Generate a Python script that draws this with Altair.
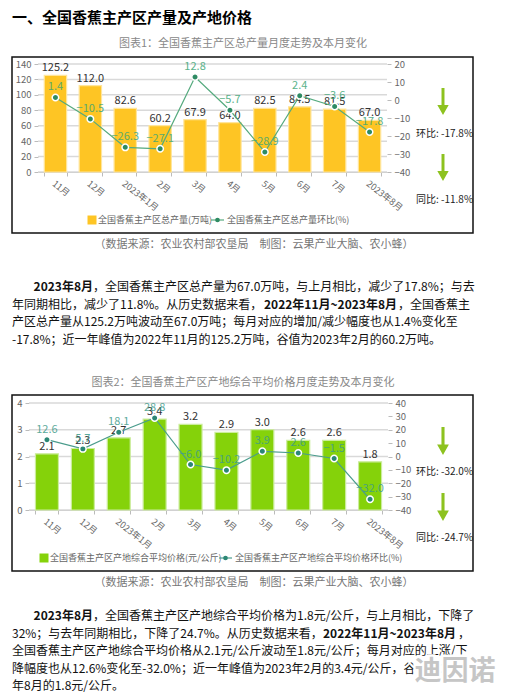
import altair as alt
import pandas as pd

# ---------------- data ----------------
months = ["11月", "12月", "2023年1月", "2月", "3月", "4月", "5月", "6月", "7月", "2023年8月"]
output_wt = [125.2, 112.0, 82.6, 60.2, 67.9, 64.0, 82.5, 84.5, 81.5, 67.0]
output_mom = [1.4, -10.5, -26.3, -27.1, 12.8, -5.7, -28.9, 2.4, -3.6, -17.8]
price = [2.1, 2.3, 2.7, 3.4, 3.2, 2.9, 3.0, 2.6, 2.6, 1.8]
price_mom = [12.6, 5.7, 18.1, 28.8, -6.0, -10.2, 3.9, 2.6, -1.5, -32.0]

out_left_ticks = [0, 20, 40, 60, 80, 100, 120, 140]
out_right_ticks = [-40, -30, -20, -10, 0, 10, 20]
price_left_ticks = [0, 1, 2, 3, 4]
price_right_ticks = [-40, -30, -20, -10, 0, 10, 20, 30, 40]

HEADING = "一、全国香蕉主产区产量及产地价格"
TITLE1 = "图表1：全国香蕉主产区总产量月度走势及本月变化"
TITLE2 = "图表2：全国香蕉主产区产地综合平均价格月度走势及本月变化"
SOURCE = "（数据来源：农业农村部农垦局　制图：云果产业大脑、农小蜂）"
LEG1A = "全国香蕉主产区总产量(万吨)"
LEG1B = "全国香蕉主产区总产量环比(%)"
LEG2A = "全国香蕉主产区产地综合平均价格(元/公斤)"
LEG2B = "全国香蕉主产区产地综合平均价格环比(%)"
MOM1, YOY1 = "环比:  -17.8%", "同比:  -11.8%"
MOM2, YOY2 = "环比:  -32.0%", "同比:  -24.7%"

P1_L1_B = "2023年8月"
P1_L1_N = "，全国香蕉主产区总产量为67.0万吨，与上月相比，减少了17.8%；与去"
P1_L2_N1 = "年同期相比，减少了11.8%。从历史数据来看，"
P1_L2_B = "2022年11月~2023年8月"
P1_L2_N2 = "，全国香蕉主"
P1_L3 = "产区总产量从125.2万吨波动至67.0万吨；每月对应的增加/减少幅度也从1.4%变化至"
P1_L4 = "-17.8%；近一年峰值为2022年11月的125.2万吨，谷值为2023年2月的60.2万吨。"

P2_L1_B = "2023年8月"
P2_L1_N = "，全国香蕉主产区产地综合平均价格为1.8元/公斤，与上月相比，下降了"
P2_L2_N1 = "32%；与去年同期相比，下降了24.7%。从历史数据来看，"
P2_L2_B = "2022年11月~2023年8月"
P2_L2_N2 = "，"
P2_L3 = "全国香蕉主产区产地综合平均价格从2.1元/公斤波动至1.8元/公斤；每月对应的上涨/下"
P2_L4 = "降幅度也从12.6%变化至-32.0%；近一年峰值为2023年2月的3.4元/公斤，谷值为2023"
P2_L5 = "年8月的1.8元/公斤。"
WATERMARK = "迪因诺"

# ---------------- layout helpers ----------------
W, H = 490, 684
FONT = "Noto Sans CJK SC"
one = pd.DataFrame({"k": [0]})


def cx(v):
    return v - 8


def cy(v):
    return v - 8


def txt(s, x, y, size=12, color="#111111", weight="normal", align="left", **kw):
    return alt.Chart(one).mark_text(
        font=FONT, fontSize=size, fontWeight=weight, color=color, align=align, baseline="middle", **kw
    ).encode(x=alt.value(cx(x)), y=alt.value(cy(y)), text=alt.value(s))


ARROW = "M-0.11,-1L0.11,-1L0.11,0.25L0.42,0.25L0,1L-0.42,0.25L-0.11,0.25Z"


def arrow(x, y0, y1, color="#8DC21F"):
    h = y1 - y0
    return alt.Chart(one).mark_point(shape=ARROW, filled=True, size=h * h, color=color, opacity=1).encode(
        x=alt.value(cx(x)), y=alt.value(cy((y0 + y1) / 2)))


def box(x0, y0, x1, y1):
    return alt.Chart(one).mark_rect(fillOpacity=0, stroke="#111111", strokeWidth=1.5).encode(
        x=alt.value(cx(x0)), x2=alt.value(cx(x1)), y=alt.value(cy(y0)), y2=alt.value(cy(y1)))


def swatch(x, y, color):
    return alt.Chart(one).mark_point(shape="square", filled=True, size=81, color=color, opacity=1).encode(
        x=alt.value(cx(x)), y=alt.value(cy(y)))


def line_swatch(x0, x1, y, color, dot):
    r = alt.Chart(one).mark_rule(color=color, strokeWidth=1.2).encode(
        x=alt.value(cx(x0)), x2=alt.value(cx(x1)), y=alt.value(cy(y)))
    d = alt.Chart(one).mark_circle(size=22, color=dot, opacity=1).encode(
        x=alt.value(cx((x0 + x1) / 2)), y=alt.value(cy(y)))
    return [r, d]


def section(values, mom, left_dom, left_ticks, right_dom, right_ticks, xr, yr, st):
    df = pd.DataFrame({"m": months, "v": values, "r": mom})
    g = pd.DataFrame({"g": left_ticks})
    xs = alt.Scale(domain=months, range=[cx(xr[0]), cx(xr[1])], paddingInner=0.36, paddingOuter=0.18)
    yl = alt.Scale(domain=left_dom, range=[cy(yr[0]), cy(yr[1])], nice=False)
    yrs = alt.Scale(domain=right_dom, range=[cy(yr[0]), cy(yr[1])], nice=False)
    ax = dict(labelFont=FONT, labelFontSize=9.5, labelColor="#666666", tickColor="#bbbbbb",
              tickSize=4, domain=False, grid=False, title=None, labelPadding=3)
    grid = alt.Chart(g).mark_rule(color="#d9d9d9", strokeWidth=1.5).encode(
        y=alt.Y("g:Q", scale=yl, axis=alt.Axis(orient="left", offset=-cx(xr[0]), values=left_ticks, **ax)),
        x=alt.value(cx(xr[0])), x2=alt.value(cx(xr[1])))
    xaxis = alt.Axis(orient="bottom", offset=cy(yr[0]) - H, labelAngle=38, labelAlign="left",
                     labelBaseline="top", tickBand="extent", labelFont=FONT, labelFontSize=9,
                     labelColor="#666666", domainColor="#bbbbbb", tickColor="#bbbbbb", tickSize=4,
                     grid=False, title=None, labelPadding=3)
    X = lambda a=None: alt.X("m:N", sort=None, scale=xs, axis=a)
    bars = alt.Chart(df).mark_bar(color=st["bar"], stroke=st["barStroke"], strokeWidth=1.2).encode(
        x=X(xaxis), y=alt.Y("v:Q", scale=yl, axis=None))
    blab = alt.Chart(df).mark_text(font=FONT, fontSize=11, color="#333333", baseline="bottom", dy=-2).encode(
        x=X(), y=alt.Y("v:Q", scale=yl, axis=None), text=alt.Text("v:Q", format=".1f"))
    line = alt.Chart(df).mark_line(color=st["line"], strokeWidth=1.2).encode(
        x=X(), y=alt.Y("r:Q", scale=yrs, axis=alt.Axis(orient="right", offset=cx(xr[1]) - W,
                                                        values=right_ticks, **ax)))
    pts = alt.Chart(df).mark_circle(size=42, color=st["pt"], stroke="white", strokeWidth=1.5, opacity=1).encode(
        x=X(), y=alt.Y("r:Q", scale=yrs, axis=None))
    llab = alt.Chart(df).mark_text(font=FONT, fontSize=11, color=st["lab"], opacity=0.85, dy=-10).encode(
        x=X(), y=alt.Y("r:Q", scale=yrs, axis=None), text=alt.Text("r:Q", format=".1f"))
    return [grid, bars, blab, line, pts, llab]


layers = []
# boxes
layers += [box(12, 57, 473, 233), box(12, 395, 473, 571)]

# heading & titles
layers += [
    txt(HEADING, 12, 18, size=15, weight="bold", color="#000000"),
    txt(TITLE1, 243, 44, size=11, color="#888888", align="center"),
    txt(TITLE2, 243, 383, size=11, color="#888888", align="center"),
]

# chart 1
st1 = dict(bar="#FEC524", barStroke="#FFE59A", line="#55AA7E", pt="#2E8B63", lab="#3DA676")
layers += section(output_wt, output_mom, [0, 140], out_left_ticks, [-40, 20], out_right_ticks,
                  (38, 387), (172, 64), st1)
layers += [swatch(92, 220, "#FEC524"), txt(LEG1A, 98, 220, size=9, color="#666666")]
layers += line_swatch(211, 224, 220, "#55AA7E", "#2E8B63")
layers += [txt(LEG1B, 227, 220, size=9, color="#666666")]
layers += [arrow(443, 88, 115), txt(MOM1, 416, 134, size=10, color="#222222"),
           arrow(443, 154, 181), txt(YOY1, 416, 200, size=10, color="#222222")]
layers += [txt(SOURCE, 254, 245, size=11, color="#777777", align="center")]

# paragraph 1
layers += [
    txt(P1_L1_B, 93, 287, weight="bold", align="right"),
    txt(P1_L1_N, 93, 287),
    txt(P1_L2_N1, 12, 304.5),
    txt(P1_L2_B, 264, 304.5, weight="bold"),
    txt(P1_L2_N2, 470, 304.5, align="right"),
    txt(P1_L3, 12, 322),
    txt(P1_L4, 12, 339.5),
]

# chart 2
st2 = dict(bar="#85D20A", barStroke="#CBEC9C", line="#4A9C8C", pt="#2B8775", lab="#3F9C8B")
layers += section(price, price_mom, [0, 4], price_left_ticks, [-40, 40], price_right_ticks,
                  (29, 388), (510, 403), st2)
layers += [swatch(44, 558, "#85D20A"), txt(LEG2A, 50, 558, size=9, color="#666666")]
layers += line_swatch(219, 232, 558, "#4A9C8C", "#2B8775")
layers += [txt(LEG2B, 235, 558, size=9, color="#666666")]
layers += [arrow(443, 427, 455), txt(MOM2, 416, 472, size=10, color="#222222"),
           arrow(443, 493, 521), txt(YOY2, 416, 538, size=10, color="#222222")]
layers += [txt(SOURCE, 254, 583, size=11, color="#777777", align="center")]

# paragraph 2
layers += [
    txt(P2_L1_B, 93, 616, weight="bold", align="right"),
    txt(P2_L1_N, 93, 616),
    txt(P2_L2_N1, 12, 633.5),
    txt(P2_L2_B, 323, 633.5, weight="bold"),
    txt(P2_L2_N2, 458, 633.5),
    txt(P2_L3, 12, 651),
    txt(P2_L4, 12, 668.5),
    txt(P2_L5, 12, 686),
]

# watermark
layers += [
    txt(WATERMARK, 455, 672, size=27, weight="bold", color="#ffffff", align="center",
        stroke="#ffffff", strokeWidth=5),
    txt(WATERMARK, 455, 672, size=27, weight="bold", color="#c6c6c6", align="center"),
]

chart = alt.layer(*layers).resolve_scale(x="independent", y="independent").properties(
    width=W, height=H, autosize=alt.AutoSizeParams(type="none"), padding=0
).configure_view(stroke=None)

chart.save("out.html", embed_options={"renderer": "svg", "actions": False})
